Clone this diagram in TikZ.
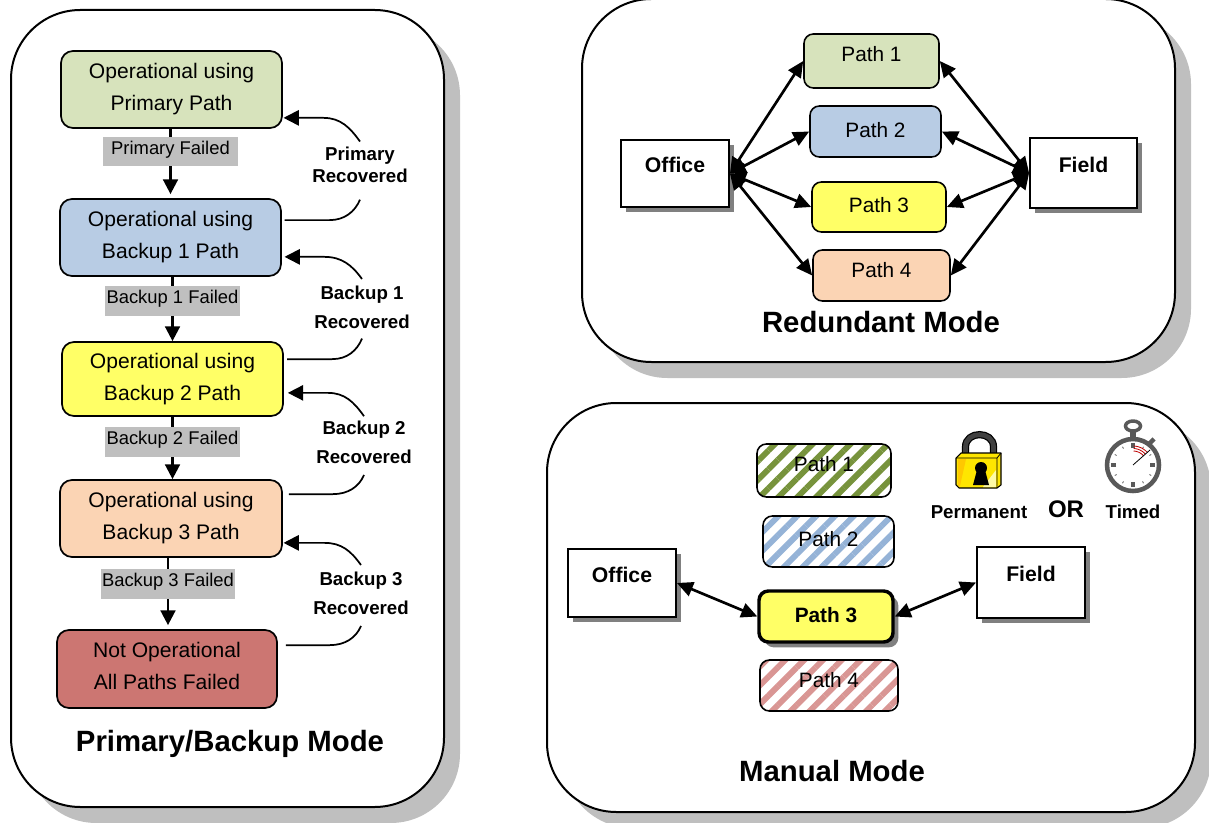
\documentclass[tikz,border=0pt]{standalone}
\usepackage{fontspec}
\setmainfont{Liberation Sans}
\usetikzlibrary{arrows.meta,shadows,patterns.meta}

\definecolor{pathgreen}{HTML}{D7E3BC}
\definecolor{pathblue}{HTML}{B8CCE4}
\definecolor{pathyellow}{HTML}{FFFF66}
\definecolor{pathorange}{HTML}{FBD4B4}
\definecolor{pathred}{HTML}{CC7672}
\definecolor{hatchgreen}{HTML}{77933C}
\definecolor{hatchblue}{HTML}{95B3D7}
\definecolor{hatchred}{HTML}{D99694}
\definecolor{panelgray}{HTML}{BFBFBF}
\definecolor{iconyellow}{HTML}{FFE600}
\definecolor{icongold}{HTML}{FFC800}
\definecolor{icongray}{HTML}{595959}

\tikzset{
    size/.style 2 args={minimum width=#1*0.75pt, minimum height=#2*0.75pt},
    panel/.style={draw, fill=white, line width=1.5pt, rounded corners=52pt,
        drop shadow={shadow xshift=12pt, shadow yshift=-12pt, fill=panelgray, opacity=1}},
    state/.style={draw, line width=1.3pt, rounded corners=9pt, align=center, inner sep=0pt,
        font=\fontsize{15.8}{24}\selectfont},
    failed/.style={fill=panelgray, inner sep=0pt, text height=10pt, text depth=6pt,
        font=\fontsize{13.8}{16}\selectfont},
    recovered/.style={align=center, inner sep=0pt, font=\fontsize{14}{22}\selectfont\bfseries},
    pathbox/.style={draw, line width=1.2pt, rounded corners=7pt, inner sep=0pt,
        font=\fontsize{15.6}{18}\selectfont},
    hatched/.style={pathbox, pattern={Lines[angle=45,distance=10pt,line width=4.4pt]}, pattern color=#1},
    site/.style={draw, fill=white, line width=1.4pt, inner sep=0pt, text depth=13pt,
        font=\fontsize{15.9}{18}\selectfont\bfseries,
        drop shadow={shadow xshift=4pt, shadow yshift=-4pt, fill=black!50, opacity=1}},
    title/.style={inner sep=0pt, font=\fontsize{22}{26}\selectfont\bfseries},
    flow/.style={-{Triangle[length=11pt,width=11pt]}, line width=1.9pt},
    back/.style={{Triangle[length=11.5pt,width=11.5pt]}-, line width=1.3pt},
    link/.style={{Triangle[length=12pt,width=11pt]}-{Triangle[length=12pt,width=11pt]}, line width=2pt}
}

\begin{document}
\begin{tikzpicture}[x=0.75pt, y=-0.75pt]

    \useasboundingbox (0, 0) rectangle (1209, 823);

    \node[panel, size={433}{797}] (left) at (227.5, 408.5) {};
    \node[panel, size={593}{363}] (top) at (878.5, 180.5) {};
    \node[panel, size={648}{409}] (bottom) at (871, 607.5) {};

    \node[state, fill=pathgreen, size={221}{77}] (s1) at (171.5, 89.5) {Operational using\\Primary Path};
    \node[state, fill=pathblue, size={221}{77}] (s2) at (170.5, 237.5) {Operational using\\Backup 1 Path};
    \node[state, fill=pathyellow, size={221}{74}] (s3) at (172.5, 379) {Operational using\\Backup 2 Path};
    \node[state, fill=pathorange, size={222}{77}] (s4) at (171, 518.5) {Operational using\\Backup 3 Path};
    \node[state, fill=pathred, size={220}{78}, text depth=4pt] (s5) at (167, 669) {Not Operational\\All Paths Failed};

    \coordinate (a1) at (170.5, 151.5);
    \coordinate (a2) at (172.5, 301);
    \coordinate (a3) at (172.5, 442);
    \coordinate (a4) at (168, 584);

    \draw[flow, shorten >=3pt] (a1 |- s1.south) -- (a1 |- s2.north);
    \draw[flow] (a2 |- s2.south) -- (a2 |- s3.north);
    \draw[flow] (a3 |- s3.south) -- (a3 |- s4.north);
    \draw[flow, shorten >=3pt] (a4 |- s4.south) -- (a4 |- s5.north);

    \node[failed, size={135}{29}] (f1) at (a1) {Primary Failed};
    \node[failed, size={135}{30}] (f2) at (a2) {Backup 1 Failed};
    \node[failed, size={135}{30}] (f3) at (a3) {Backup 2 Failed};
    \node[failed, size={134}{30}] (f4) at (a4) {Backup 3 Failed};

    \node[recovered, font=\fontsize{14}{16.5}\selectfont\bfseries] (r1) at (360, 165) {Primary\\Recovered};
    \node[recovered] (r2) at (362, 307.5) {Backup 1\\Recovered};
    \node[recovered] (r3) at (364, 442.5) {Backup 2\\Recovered};
    \node[recovered] (r4) at (361, 593.5) {Backup 3\\Recovered};

    \draw[line width=1.3pt] ([xshift=2pt, yshift=-16.5pt]s2.north east) -- ++(45, 0)
        .. controls +(15, 0) and +(-5, 12) .. ([yshift=-12.4pt]r1.south);
    \draw[back] ([xshift=0.5pt, yshift=8.25pt]s1.south east) -- ++(40, 0)
        .. controls +(17, 0) and +(-10, -14) .. ([yshift=4pt]r1.north);
    \draw[line width=1.3pt] ([xshift=2.5pt, yshift=-13.5pt]s3.north east) -- ++(45, 0)
        .. controls +(15, 0) and +(-5, 12) .. ([yshift=-7pt]r2.south);
    \draw[back] ([xshift=2pt, yshift=15pt]s2.south east) -- ++(40, 0)
        .. controls +(17, 0) and +(-10, -14) .. ([yshift=5pt]r2.north);
    \draw[line width=1.3pt] ([xshift=4.5pt, yshift=-11.25pt]s4.north east) -- ++(44, 0)
        .. controls +(15, 0) and +(-5, 12) .. ([yshift=-8pt]r3.south);
    \draw[back] ([xshift=3pt, yshift=18pt]s3.south east) -- ++(40, 0)
        .. controls +(17, 0) and +(-10, -14) .. ([yshift=3.4pt]r3.north);
    \draw[line width=1.3pt] ([xshift=6pt, yshift=-12pt]s5.north east) -- ++(44, 0)
        .. controls +(15, 0) and +(-5, 12) .. ([yshift=-8pt]r4.south);
    \draw[back] ([xshift=0.5pt, yshift=11.25pt]s4.south east) -- ++(41, 0)
        .. controls +(17, 0) and +(-10, -14) .. ([yshift=5pt]r4.north);

    \node[title] (t1) at (230, 744) {Primary/Backup Mode};

    \node[site, size={108}{67}] (office) at (675, 173.5) {Office};
    \node[site, size={107}{70}] (field) at (1083.5, 173) {Field};

    \node[pathbox, fill=pathgreen, size={135}{54}, text depth=10pt] (p1) at (871.5, 61) {Path 1};
    \node[pathbox, fill=pathblue, size={131}{51}, text depth=3pt] (p2) at (875.5, 131.5) {Path 2};
    \node[pathbox, fill=pathyellow, size={134}{50}, text depth=3pt] (p3) at (879, 207) {Path 3};
    \node[pathbox, fill=pathorange, size={137}{51}, text depth=8pt] (p4) at (881.5, 275.5) {Path 4};

    \draw[link] (office.east) -- (p1.west);
    \draw[link] (office.east) -- (p2.west);
    \draw[link] (office.east) -- (p3.west);
    \draw[link] (office.east) -- (p4.west);
    \draw[link] (field.west) -- (p1.east);
    \draw[link] (field.west) -- (p2.east);
    \draw[link] (field.west) -- (p3.east);
    \draw[link] (field.west) -- (p4.east);

    \node[title] (t2) at (881, 322) {Redundant Mode};

    \node[site, size={108}{68}] (mo) at (622, 583) {Office};
    \node[site, size={108}{71}] (mf) at (1031, 582.5) {Field};

    \node[hatched=hatchgreen, size={134}{53}, text depth=10pt] (m1) at (824, 470.5) {Path 1};
    \node[hatched=hatchblue, size={131}{51}, text depth=4pt] (m2) at (828.5, 541.5) {Path 2};
    \node[pathbox, fill=pathyellow, line width=2.6pt, size={134}{51}, text depth=3pt,
        font=\fontsize{15.6}{18}\selectfont\bfseries,
        drop shadow={shadow xshift=4pt, shadow yshift=-4pt, fill=black!50, opacity=1}] (m3) at (826, 616.5) {Path 3};
    \node[hatched=hatchred, size={138}{51}, text depth=8pt] (m4) at (829, 685.5) {Path 4};

    \draw[link] (mo.east) -- (m3.west);
    \draw[link] (m3.east) -- (mf.west);

    \node[title] (t3) at (832, 771) {Manual Mode};

    \node[recovered] (perm) at (979, 512) {Permanent};
    \node[recovered, font=\fontsize{18}{20}\selectfont\bfseries] (or) at (1066, 509) {OR};
    \node[recovered] (timed) at (1133, 512) {Timed};

    \draw[line width=5.4pt] (965.5, 456) -- (965.5, 447)
        .. controls (965.5, 430.5) and (993.5, 430.5) .. (993.5, 447) -- (993.5, 456);
    \draw[black!75, line width=3.6pt] (965.5, 456) -- (965.5, 447)
        .. controls (965.5, 430.5) and (993.5, 430.5) .. (993.5, 447) -- (993.5, 456);
    \draw[fill=iconyellow, line width=0.8pt, line join=round] (956, 458) -- (961, 453) -- (1001, 453) -- (1001, 485)
        -- (997, 488) -- (959, 488) -- (956, 485) -- cycle;
    \fill[icongold] (958, 459) -- (966, 459) -- (960, 486) -- (958, 486) -- cycle;
    \fill[yellow!35] (996, 470) -- (996, 487) -- (983, 487) -- cycle;
    \draw[line width=0.6pt] (956, 458) -- (997, 458) -- (1001, 453) (997, 458) -- (997, 488);
    \fill (981, 468) circle (6);
    \fill (977, 470) -- (985, 470) -- (989, 485) -- (973, 485) -- cycle;

    \draw[icongray, line width=3.4pt] (1149, 444) -- (1154, 439);
    \draw[icongray, line width=3.4pt, fill=white] (1133, 465) circle (26);
    \draw[icongray, line width=2.6pt] (1133, 426) ellipse (7.5 and 5);
    \draw[icongray, line width=4pt] (1133, 431) -- (1133, 438);
    \foreach \a in {0, 90, 180, 270}
        \draw[icongray, line width=2.4pt] ({1133 + 17*cos(\a)}, {465 + 17*sin(\a)}) -- ({1133 + 22*cos(\a)}, {465 + 22*sin(\a)});
    \foreach \a in {30, 60, 120, 150, 210, 240, 300, 330}
        \draw[icongray, line width=0.6pt] ({1133 + 19*cos(\a)}, {465 + 19*sin(\a)}) -- ({1133 + 21*cos(\a)}, {465 + 21*sin(\a)});
    \foreach \r in {14, 16.5, 19}
        \draw[red!75!black, line width=0.6pt] plot[domain=-88:-42, samples=8, smooth] ({1133 + \r*cos(\x)}, {465 + \r*sin(\x)});
    \draw[line width=0.6pt] (1133, 465) -- (1150, 450);

\end{tikzpicture}
\end{document}
